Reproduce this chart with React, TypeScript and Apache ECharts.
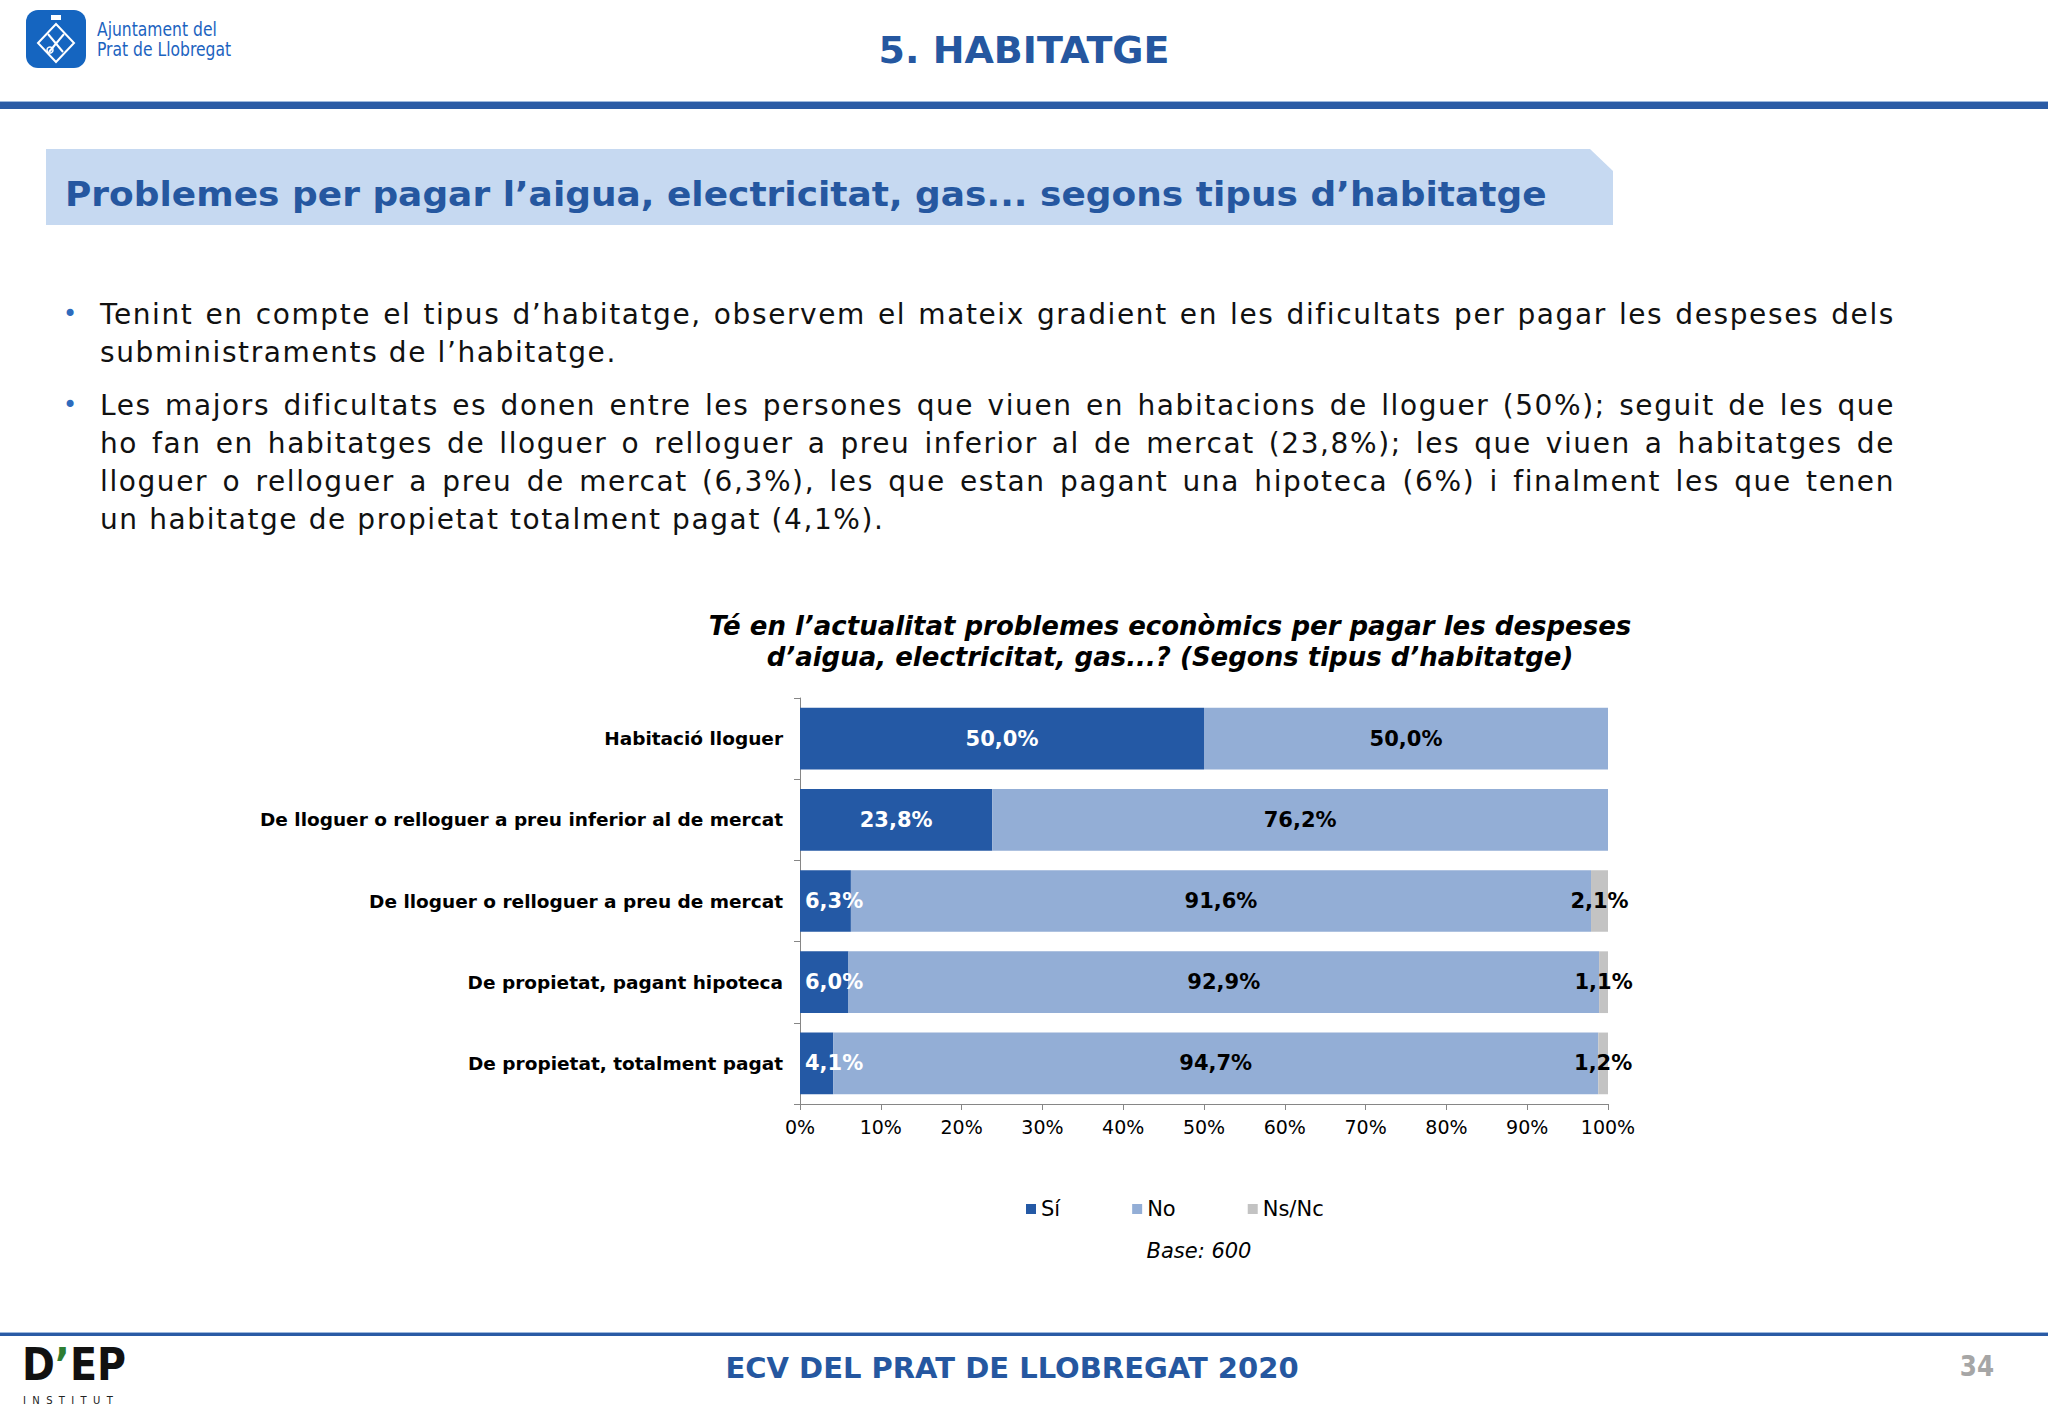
import React, { useEffect, useRef } from "react";
import * as echarts from "echarts";

const categories = [
  "Habitació lloguer",
  "De lloguer o relloguer a preu inferior al de mercat",
  "De lloguer o relloguer a preu de mercat",
  "De propietat, pagant hipoteca",
  "De propietat, totalment pagat",
];
const seriesNames = ["Sí", "No", "Ns/Nc"];
const siValues = [50.0, 23.8, 6.3, 6.0, 4.1];
const noValues = [50.0, 76.2, 91.6, 92.9, 94.7];
const nsncValues = [0, 0, 2.1, 1.1, 1.2];

const chartTitle =
  "Té en l’actualitat problemes econòmics per pagar les despeses\nd’aigua, electricitat, gas...? (Segons tipus d’habitatge)";
const baseText = "Base: 600";

const para1 = [
  "Tenint en compte el tipus d’habitatge, observem el mateix gradient en les dificultats per pagar les despeses dels",
  "subministraments de l’habitatge.",
];
const para2 = [
  "Les majors dificultats es donen entre les persones que viuen en habitacions de lloguer (50%); seguit de les que",
  "ho fan en habitatges de lloguer o relloguer a preu inferior al de mercat (23,8%); les que viuen a habitatges de",
  "lloguer o relloguer a preu de mercat (6,3%), les que estan pagant una hipoteca (6%) i finalment les que tenen",
  "un habitatge de propietat totalment pagat (4,1%).",
];

const FONT = '"DejaVu Sans", Verdana, sans-serif';
const DARK = "#2459a5";
const LIGHT = "#93aed6";
const GREY = "#c3c3c3";
const HEAD = "#2557a0";

const fmt = (p: any) =>
  p.value ? p.value.toFixed(1).replace(".", ",") + "%" : "";

function Paragraph({ lines, top }: { lines: string[]; top: number }) {
  return (
    <div style={{ position: "absolute", left: 100, top, width: 1795 }}>
      <span
        style={{
          position: "absolute",
          left: -38,
          top: 0,
          width: 16,
          textAlign: "center",
          color: "#2e6bbd",
          fontSize: 24,
          lineHeight: "36px",
          letterSpacing: 0,
        }}
      >
        •
      </span>
      {lines.map((l, i) => (
        <div
          key={i}
          style={{
            textAlign: "justify",
            textAlignLast: i === lines.length - 1 ? "left" : "justify",
            lineHeight: "38px",
            height: 38,
            whiteSpace: "normal",
          }}
        >
          {l}
        </div>
      ))}
    </div>
  );
}

export default function App() {
  const ref = useRef<HTMLDivElement>(null);

  useEffect(() => {
    if (!ref.current) return;
    const chart = echarts.init(ref.current, null, { renderer: "svg" });
    const labelBase = {
      show: true,
      position: "inside",
      fontFamily: FONT,
      fontWeight: "bold",
      fontSize: 21,
      formatter: fmt,
    };
    const mid = { textVerticalAlign: "middle", verticalAlign: "middle" };
    const ctr = { textAlign: "center", align: "center", ...mid };
    const option: any = {
      animation: false,
      backgroundColor: "#ffffff",
      grid: { left: 800, top: 698, width: 808, height: 406, containLabel: false },
      xAxis: {
        type: "value",
        min: 0,
        max: 100,
        interval: 10,
        axisLine: { show: true, lineStyle: { color: "#868686" } },
        axisTick: { show: true, length: 6, lineStyle: { color: "#868686" } },
        splitLine: { show: false },
        axisLabel: {
          formatter: "{value}%",
          fontSize: 19,
          color: "#000",
          margin: 13,
          fontFamily: FONT,
        },
      },
      yAxis: {
        type: "category",
        inverse: true,
        data: categories,
        axisLine: { show: true, lineStyle: { color: "#868686" } },
        axisTick: { show: true, length: 6, lineStyle: { color: "#868686" } },
        axisLabel: {
          fontSize: 18.5,
          fontWeight: "bold",
          color: "#000",
          margin: 17,
          fontFamily: FONT,
        },
      },
      legend: {
        data: seriesNames,
        left: 1026,
        top: 1198,
        padding: 0,
        icon: "rect",
        itemWidth: 10,
        itemHeight: 10,
        itemGap: 72,
        textStyle: { fontSize: 21, color: "#000", fontFamily: FONT, lineHeight: 22 },
      },
      series: [
        {
          name: seriesNames[0],
          type: "bar",
          stack: "total",
          barCategoryGap: "24%",
          itemStyle: { color: DARK },
          label: { ...labelBase, color: "#fff" },
          data: siValues.map((v) =>
            v < 10
              ? { value: v, label: { position: "insideLeft", distance: 5 } }
              : { value: v }
          ),
        },
        {
          name: seriesNames[1],
          type: "bar",
          stack: "total",
          barCategoryGap: "24%",
          itemStyle: { color: LIGHT },
          label: { ...labelBase, color: "#000" },
          data: noValues,
        },
        {
          name: seriesNames[2],
          type: "bar",
          stack: "total",
          barCategoryGap: "24%",
          itemStyle: { color: GREY },
          label: { ...labelBase, color: "#000" },
          data: nsncValues,
        },
      ],
      graphic: [
        // header logo
        { type: "rect", shape: { x: 26, y: 10, width: 60, height: 58, r: 12 }, style: { fill: "#1565c0" } },
        {
          type: "polygon",
          shape: { points: [[56, 24], [74, 43], [56, 62], [38, 43]] },
          style: { fill: "none", stroke: "#fff", lineWidth: 2 },
        },
        { type: "rect", shape: { x: 51, y: 15, width: 10, height: 5 }, style: { fill: "#fff" } },
        { type: "line", shape: { x1: 48, y1: 34, x2: 63, y2: 52 }, style: { stroke: "#fff", lineWidth: 2 } },
        { type: "line", shape: { x1: 64, y1: 34, x2: 49, y2: 52 }, style: { stroke: "#fff", lineWidth: 2 } },
        { type: "circle", shape: { cx: 50, cy: 50, r: 3 }, style: { fill: "none", stroke: "#fff", lineWidth: 1.5 } },
        {
          type: "text",
          x: 97,
          y: 29,
          scaleX: 0.82,
          style: { text: "Ajuntament del", fill: "#1b63c0", fontSize: 19, fontFamily: FONT, ...mid },
        },
        {
          type: "text",
          x: 97,
          y: 49,
          scaleX: 0.82,
          style: { text: "Prat de Llobregat", fill: "#1b63c0", fontSize: 19, fontFamily: FONT, ...mid },
        },
        {
          type: "text",
          x: 1024,
          y: 50,
          style: {
            text: "5. HABITATGE",
            fill: HEAD,
            fontSize: 38,
            fontWeight: "bold",
            fontFamily: FONT,
            ...ctr,
          },
        },
        { type: "rect", shape: { x: 0, y: 101, width: 2048, height: 1 }, style: { fill: "#9db8dd" } },
        { type: "rect", shape: { x: 0, y: 102, width: 2048, height: 7 }, style: { fill: "#2a5ba5" } },
        // section title box
        {
          type: "polygon",
          shape: { points: [[46, 149], [1590, 149], [1613, 171], [1613, 225], [46, 225]] },
          style: { fill: "#c6d9f1" },
        },
        {
          type: "text",
          x: 65,
          y: 194,
          scaleX: 1.058,
          style: {
            text: "Problemes per pagar l’aigua, electricitat, gas... segons tipus d’habitatge",
            fill: HEAD,
            fontSize: 34,
            fontWeight: "bold",
            fontFamily: FONT,
            ...mid,
          },
        },
        // chart title
        {
          type: "text",
          x: 1170,
          y: 641,
          style: {
            text: chartTitle,
            fill: "#000",
            fontSize: 26,
            fontWeight: "bold",
            fontStyle: "italic",
            fontFamily: FONT,
            lineHeight: 31,
            ...ctr,
          },
        },
        {
          type: "text",
          x: 1199,
          y: 1251,
          style: {
            text: baseText,
            fill: "#000",
            fontSize: 21,
            fontStyle: "italic",
            fontFamily: FONT,
            ...ctr,
          },
        },
        // footer
        { type: "rect", shape: { x: 0, y: 1332, width: 2048, height: 1 }, style: { fill: "#9db8dd" } },
        { type: "rect", shape: { x: 0, y: 1333, width: 2048, height: 3 }, style: { fill: "#2a5ba5" } },
        {
          type: "text",
          x: 1012,
          y: 1368,
          style: {
            text: "ECV DEL PRAT DE LLOBREGAT 2020",
            fill: HEAD,
            fontSize: 29,
            fontWeight: "bold",
            fontFamily: FONT,
            ...ctr,
          },
        },
        {
          type: "text",
          x: 1977,
          y: 1366,
          scaleX: 0.85,
          style: {
            text: "34",
            fill: "#a6a6a6",
            fontSize: 29,
            fontWeight: "bold",
            fontFamily: FONT,
            ...ctr,
          },
        },
        {
          type: "text",
          x: 22,
          y: 1365,
          scaleX: 0.9,
          style: {
            text: "{a|D}{g|’}{a|EP}",
            rich: {
              a: { fontSize: 44, fontWeight: "bold", fontFamily: FONT, fill: "#111", color: "#111", lineHeight: 40 },
              g: { fontSize: 44, fontWeight: "bold", fontFamily: FONT, fill: "#2e7d32", color: "#2e7d32", lineHeight: 40 },
            },
            ...mid,
          },
        },
        {
          type: "text",
          x: 23,
          y: 1400,
          style: {
            text: "I  N  S  T  I  T  U  T",
            fill: "#222",
            fontSize: 10,
            fontFamily: FONT,
            ...mid,
          },
        },
      ],
    };
    chart.setOption(option);
    return () => chart.dispose();
  }, []);

  return (
    <div
      style={{
        position: "fixed",
        left: 0,
        top: 0,
        width: 2048,
        height: 1418,
        overflow: "hidden",
        background: "#fff",
      }}
    >
      <div ref={ref} style={{ position: "absolute", left: 0, top: 0, width: 2048, height: 1418 }} />
      <div
        style={{
          position: "absolute",
          left: 0,
          top: 0,
          fontFamily: FONT,
          fontSize: 28,
          letterSpacing: "1.6px",
          color: "#111",
        }}
      >
        <Paragraph lines={para1} top={296} />
        <Paragraph lines={para2} top={387} />
      </div>
    </div>
  );
}
